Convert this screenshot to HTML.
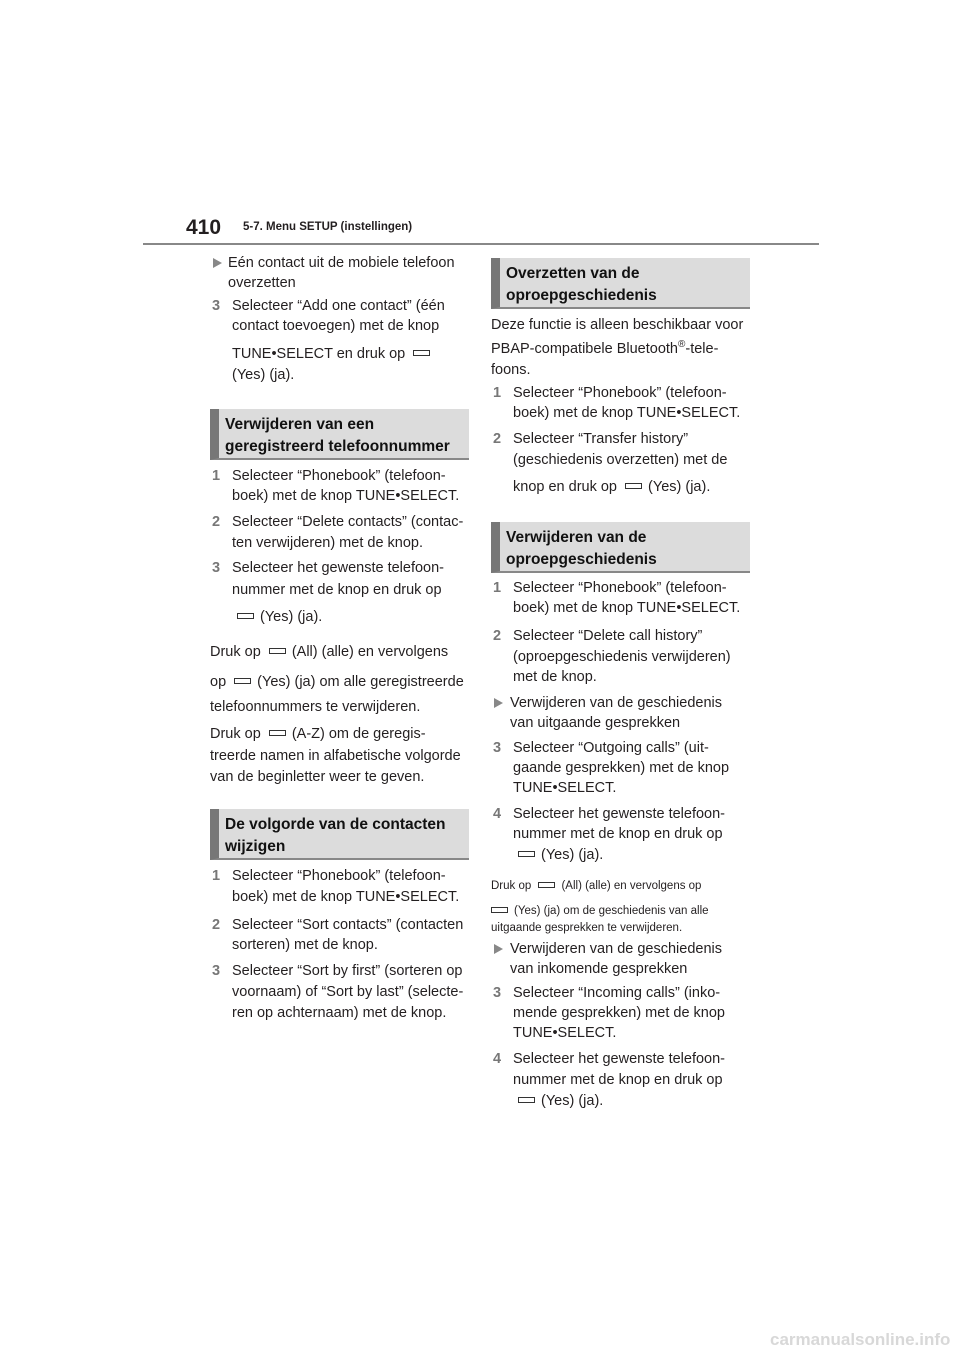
<!DOCTYPE html>
<html><head><meta charset="utf-8"><style>
body{margin:0;width:960px;height:1358px;background:#fff;position:relative;overflow:hidden;font-family:"Liberation Sans",Arial,sans-serif;color:#231f20}
.l{position:absolute;font-size:14.5px;line-height:18px;white-space:nowrap;transform:translateY(-9px)}
.s{font-size:11.5px}
.n{position:absolute;font-size:14.5px;line-height:18px;transform:translateY(-9px);color:#777;font-weight:bold}
.t{position:absolute;width:0;height:0;border-top:5px solid transparent;border-bottom:5px solid transparent;border-left:9px solid #888;transform:translateY(-5px)}
.b{display:inline-block;width:15px;height:4px;border:1.5px solid #333;vertical-align:middle;margin:0 6px 0 4px;position:relative;top:-1px}
.h{position:absolute;background:#dcdcdc;border-left:9px solid #777;border-bottom:2px solid #888;box-sizing:border-box;font-weight:bold;font-size:15.5px;line-height:22px;padding:5px 0 0 6px;color:#111}
sup{line-height:0;font-size:10px;vertical-align:6px}
</style></head><body>
<div style="position:absolute;left:186px;top:215px;font-weight:bold;font-size:21px;line-height:26px">410</div>
<div style="position:absolute;left:243px;top:220px;font-weight:bold;font-size:11.5px;line-height:14px">5-7. Menu SETUP (instellingen)</div>
<div style="position:absolute;left:143px;top:243px;width:676px;height:2px;background:#888"></div>

<div class="t" style="left:213px;top:263px"></div>
<div class="l" style="left:228px;top:263px">Eén contact uit de mobiele telefoon</div>
<div class="l" style="left:228px;top:283px">overzetten</div>
<div class="n" style="left:212px;top:306px">3</div>
<div class="l" style="left:232px;top:306px">Selecteer “Add one contact” (één</div>
<div class="l" style="left:232px;top:326px">contact toevoegen) met de knop</div>
<div class="l" style="left:232px;top:354px">TUNE•SELECT en druk op <span class="b"></span></div>
<div class="l" style="left:232px;top:375px">(Yes) (ja).</div>

<div class="h" style="left:210px;top:409px;width:259px;height:51px">Verwijderen van een<br>geregistreerd telefoonnummer</div>

<div class="n" style="left:212px;top:476px">1</div>
<div class="l" style="left:232px;top:476px">Selecteer “Phonebook” (telefoon-</div>
<div class="l" style="left:232px;top:496px">boek) met de knop TUNE•SELECT.</div>
<div class="n" style="left:212px;top:522px">2</div>
<div class="l" style="left:232px;top:522px">Selecteer “Delete contacts” (contac-</div>
<div class="l" style="left:232px;top:543px">ten verwijderen) met de knop.</div>
<div class="n" style="left:212px;top:568px">3</div>
<div class="l" style="left:232px;top:568px">Selecteer het gewenste telefoon-</div>
<div class="l" style="left:232px;top:590px">nummer met de knop en druk op</div>
<div class="l" style="left:233px;top:617px"><span class="b"></span>(Yes) (ja).</div>
<div class="l" style="left:210px;top:652px">Druk op <span class="b"></span>(All) (alle) en vervolgens</div>
<div class="l" style="left:210px;top:682px">op <span class="b"></span>(Yes) (ja) om alle geregistreerde</div>
<div class="l" style="left:210px;top:707px">telefoonnummers te verwijderen.</div>
<div class="l" style="left:210px;top:734px">Druk op <span class="b"></span>(A-Z) om de geregis-</div>
<div class="l" style="left:210px;top:756px">treerde namen in alfabetische volgorde</div>
<div class="l" style="left:210px;top:777px">van de beginletter weer te geven.</div>

<div class="h" style="left:210px;top:809px;width:259px;height:51px">De volgorde van de contacten<br>wijzigen</div>

<div class="n" style="left:212px;top:876px">1</div>
<div class="l" style="left:232px;top:876px">Selecteer “Phonebook” (telefoon-</div>
<div class="l" style="left:232px;top:897px">boek) met de knop TUNE•SELECT.</div>
<div class="n" style="left:212px;top:925px">2</div>
<div class="l" style="left:232px;top:925px">Selecteer “Sort contacts” (contacten</div>
<div class="l" style="left:232px;top:945px">sorteren) met de knop.</div>
<div class="n" style="left:212px;top:971px">3</div>
<div class="l" style="left:232px;top:971px">Selecteer “Sort by first” (sorteren op</div>
<div class="l" style="left:232px;top:992px">voornaam) of “Sort by last” (selecte-</div>
<div class="l" style="left:232px;top:1013px">ren op achternaam) met de knop.</div>

<div class="h" style="left:491px;top:258px;width:259px;height:51px">Overzetten van de<br>oproepgeschiedenis</div>
<div class="l" style="left:491px;top:325px">Deze functie is alleen beschikbaar voor</div>
<div class="l" style="left:491px;top:349px">PBAP-compatibele Bluetooth<sup>®</sup>-tele-</div>
<div class="l" style="left:491px;top:370px">foons.</div>
<div class="n" style="left:493px;top:393px">1</div>
<div class="l" style="left:513px;top:393px">Selecteer “Phonebook” (telefoon-</div>
<div class="l" style="left:513px;top:413px">boek) met de knop TUNE•SELECT.</div>
<div class="n" style="left:493px;top:439px">2</div>
<div class="l" style="left:513px;top:439px">Selecteer “Transfer history”</div>
<div class="l" style="left:513px;top:460px">(geschiedenis overzetten) met de</div>
<div class="l" style="left:513px;top:487px">knop en druk op <span class="b"></span>(Yes) (ja).</div>

<div class="h" style="left:491px;top:522px;width:259px;height:51px">Verwijderen van de<br>oproepgeschiedenis</div>
<div class="n" style="left:493px;top:588px">1</div>
<div class="l" style="left:513px;top:588px">Selecteer “Phonebook” (telefoon-</div>
<div class="l" style="left:513px;top:608px">boek) met de knop TUNE•SELECT.</div>
<div class="n" style="left:493px;top:636px">2</div>
<div class="l" style="left:513px;top:636px">Selecteer “Delete call history”</div>
<div class="l" style="left:513px;top:657px">(oproepgeschiedenis verwijderen)</div>
<div class="l" style="left:513px;top:677px">met de knop.</div>
<div class="t" style="left:494px;top:703px"></div>
<div class="l" style="left:510px;top:703px">Verwijderen van de geschiedenis</div>
<div class="l" style="left:510px;top:723px">van uitgaande gesprekken</div>
<div class="n" style="left:493px;top:748px">3</div>
<div class="l" style="left:513px;top:748px">Selecteer “Outgoing calls” (uit-</div>
<div class="l" style="left:513px;top:768px">gaande gesprekken) met de knop</div>
<div class="l" style="left:513px;top:788px">TUNE•SELECT.</div>
<div class="n" style="left:493px;top:814px">4</div>
<div class="l" style="left:513px;top:814px">Selecteer het gewenste telefoon-</div>
<div class="l" style="left:513px;top:834px">nummer met de knop en druk op</div>
<div class="l" style="left:514px;top:855px"><span class="b"></span>(Yes) (ja).</div>
<div class="l s" style="left:491px;top:886px">Druk op <span class="b"></span>(All) (alle) en vervolgens op</div>
<div class="l s" style="left:487px;top:911px"><span class="b"></span>(Yes) (ja) om de geschiedenis van alle</div>
<div class="l s" style="left:491px;top:928px">uitgaande gesprekken te verwijderen.</div>
<div class="t" style="left:494px;top:949px"></div>
<div class="l" style="left:510px;top:949px">Verwijderen van de geschiedenis</div>
<div class="l" style="left:510px;top:969px">van inkomende gesprekken</div>
<div class="n" style="left:493px;top:993px">3</div>
<div class="l" style="left:513px;top:993px">Selecteer “Incoming calls” (inko-</div>
<div class="l" style="left:513px;top:1013px">mende gesprekken) met de knop</div>
<div class="l" style="left:513px;top:1033px">TUNE•SELECT.</div>
<div class="n" style="left:493px;top:1059px">4</div>
<div class="l" style="left:513px;top:1059px">Selecteer het gewenste telefoon-</div>
<div class="l" style="left:513px;top:1080px">nummer met de knop en druk op</div>
<div class="l" style="left:514px;top:1101px"><span class="b"></span>(Yes) (ja).</div>

<div style="position:absolute;left:770px;top:1330px;font-size:17px;color:#d8d8d8;font-weight:bold">carmanualsonline.info</div>
</body></html>
